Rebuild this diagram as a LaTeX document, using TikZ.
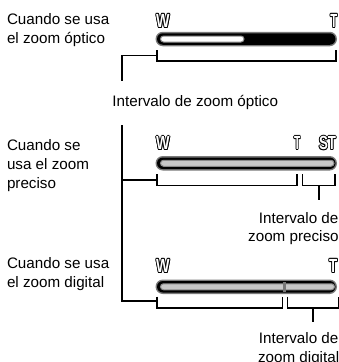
\documentclass[tikz,border=0pt]{standalone}
\usepackage{fontspec}
\setmainfont{Liberation Sans}
\usepackage{graphicx}
\definecolor{ringgray}{HTML}{7A7A7A}
\definecolor{chgray}{HTML}{8A8A8A}
\definecolor{fillgray}{HTML}{C8C8C8}
\definecolor{divgray}{HTML}{777777}
\newcommand\olt[1]{\leavevmode
 \rlap{\kern-1.1pt\textcolor{black}{#1}}%
 \rlap{\kern1.1pt\textcolor{black}{#1}}%
 \rlap{\raisebox{1pt}{\textcolor{black}{#1}}}%
 \rlap{\raisebox{-1pt}{\textcolor{black}{#1}}}%
 \rlap{\kern-0.8pt\raisebox{0.7pt}{\textcolor{black}{#1}}}%
 \rlap{\kern0.8pt\raisebox{0.7pt}{\textcolor{black}{#1}}}%
 \rlap{\kern-0.8pt\raisebox{-0.7pt}{\textcolor{black}{#1}}}%
 \rlap{\kern0.8pt\raisebox{-0.7pt}{\textcolor{black}{#1}}}%
 \textcolor{white}{#1}}
\begin{document}
\begin{tikzpicture}[x=1pt,y=-1pt,
  txt/.style={inner sep=0pt, font=\fontsize{15.2}{18}\selectfont, anchor=base west, text=black},
  rtxt/.style={txt, anchor=base east},
  lettr/.style={inner sep=0pt, font=\fontsize{19}{19}\selectfont\bfseries, anchor=base west},
  lnk/.style={line width=1.8pt, line cap=butt, line join=miter},
  outer/.style={fill=ringgray, rounded corners=7.25pt},
  inner/.style={fill=black, rounded corners=5.75pt},
  chan/.style={draw=chgray, line width=1pt, rounded corners=3pt},
  ]
\useasboundingbox (0,0) rectangle (338,362);
\fill[white] (0,0) rectangle (338,362);

% ---------- left texts
\node[txt] (s1a) at (6.8,24) {Cuando se usa};
\node[txt] (s1b) at (6.8,43.3) {el zoom óptico};
\node[txt] (s2a) at (6.8,150) {Cuando se};
\node[txt] (s2b) at (6.8,169.3) {usa el zoom};
\node[txt] (s2c) at (6.8,188.5) {preciso};
\node[txt] (s3a) at (6.8,268.3) {Cuando se usa};
\node[txt] (s3b) at (6.8,287.2) {el zoom digital};

% ---------- bar 1
\fill[outer] (155.5,31.75) rectangle (337,46.25);
\fill[inner] (157,33.25) rectangle (335.5,44.75);
\filldraw[chan, fill=white] (160.5,36) rectangle (244,42);
\node[lettr] (w1) at (156,27.4) {\scalebox{0.75}[1]{\olt{W}}};
\node[lettr] (t1) at (330.2,27.4) {\scalebox{0.6}[1]{\olt{T}}};

% ---------- bar 2
\fill[outer] (155.5,156) rectangle (337,170.5);
\fill[inner] (157,157.5) rectangle (335.5,169);
\filldraw[chan, fill=fillgray] (160.5,160.25) rectangle (334,166.25);
\node[lettr] (w2) at (156,149.8) {\scalebox{0.75}[1]{\olt{W}}};
\node[lettr] (t2) at (293.8,149.8) {\scalebox{0.55}[1]{\olt{T}}};
\node[lettr] (st2) at (318.8,149.8) {\scalebox{0.7}[1]{\olt{ST}}};

% ---------- bar 3
\fill[outer] (155.5,279.5) rectangle (337,294);
\fill[inner] (157,281) rectangle (335.5,292.5);
\filldraw[chan, fill=fillgray] (160.5,283.75) rectangle (334.5,289.75);
\fill[divgray] (282.5,282) rectangle (285.5,291.5);
\node[lettr] (w3) at (156,272.6) {\scalebox{0.75}[1]{\olt{W}}};
\node[lettr] (t3) at (329,272.6) {\scalebox{0.7}[1]{\olt{T}}};

% ---------- brackets
\draw[lnk] (157,50) -- (157,61) -- (336,61) -- (336,50);
\draw[lnk] (157,174) -- (157,185.5) -- (297,185.5) -- (297,174);
\draw[lnk] (302.5,174) -- (302.5,185.5) -- (335,185.5) -- (335,174);
\draw[lnk] (157,296.5) -- (157,308) -- (282.5,308) -- (282.5,296.5);
\draw[lnk] (287.5,296.5) -- (287.5,308) -- (339,308) -- (339,296.5);

% ---------- labels
\node[txt] (lopt) at (112.2,106.6) {Intervalo de zoom óptico};
\node[rtxt] (lpa) at (338.6,223) {Intervalo de};
\node[rtxt] (lpb) at (338.8,241.7) {zoom preciso};
\node[rtxt] (lda) at (338.6,343.3) {Intervalo de};
\node[rtxt] (ldb) at (339.4,362) {zoom digital};

% ---------- connectors
\coordinate (c1a) at (157,55.5);
\coordinate (c1b) at (122,80.5);
\draw[lnk] (c1a) -| (c1b);
\coordinate (c2top) at (122,125);
\coordinate (c2mid) at (122,180);
\coordinate (c2end) at (157,180);
\coordinate (c3end) at (157,301);
\draw[lnk] (c2top) |- (c3end);
\draw[lnk] (c2mid) -- (c2end);
\coordinate (dp1) at (318.75,185.5);
\coordinate (dp2) at (318.75,200);
\draw[lnk] (dp1) -- (dp2);
\coordinate (dd1) at (313.25,308);
\coordinate (dd2) at (313.25,322);
\draw[lnk] (dd1) -- (dd2);
\end{tikzpicture}
\end{document}
